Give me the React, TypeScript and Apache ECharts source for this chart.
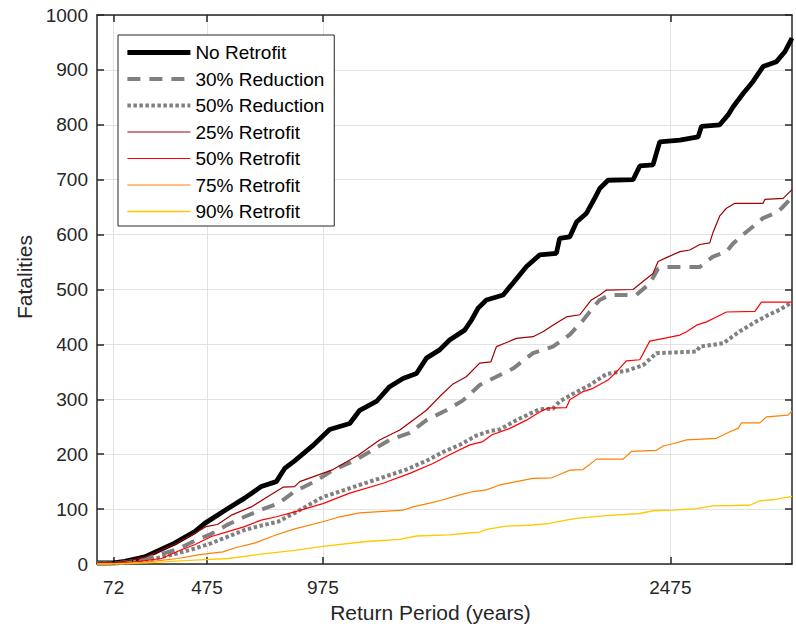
import { useEffect, useRef } from "react";
import * as echarts from "echarts";

const xTickValues = [72, 475, 975, 2475];
const seriesNames = [
  "No Retrofit",
  "30% Reduction",
  "50% Reduction",
  "25% Retrofit",
  "50% Retrofit",
  "75% Retrofit",
  "90% Retrofit",
];

const noRetrofit: [number, number][] = [
  [0, 2], [72, 2], [120, 5], [206, 13], [335, 38], [422, 59], [465, 74], [565, 101],
  [637, 120], [709, 141], [774, 150], [810, 174], [853, 188], [930, 215], [1004, 245],
  [1091, 256], [1134, 280], [1206, 296], [1263, 323], [1321, 338], [1379, 347], [1422, 375],
  [1479, 390], [1522, 408], [1587, 426], [1616, 444], [1645, 466], [1681, 481], [1753, 490],
  [1796, 512], [1854, 542], [1911, 563], [1983, 566], [1997, 593], [2041, 596], [2070, 623],
  [2113, 639], [2148, 666], [2170, 684], [2206, 699], [2314, 700], [2343, 725], [2400, 727],
  [2429, 769], [2516, 772], [2595, 778], [2609, 797], [2688, 800], [2724, 818], [2746, 833],
  [2789, 857], [2832, 879], [2875, 906], [2933, 915], [2969, 933], [3000, 958],
];

const reduction30: [number, number][] = [
  [0, 1], [72, 1], [120, 3], [206, 9], [349, 27], [421, 42], [494, 55], [565, 72],
  [637, 86], [709, 99], [781, 110], [853, 132], [947, 152], [1019, 171], [1105, 187],
  [1191, 208], [1263, 226], [1350, 239], [1422, 262], [1508, 280], [1580, 298], [1652, 326],
  [1724, 341], [1796, 356], [1882, 384], [1968, 396], [2041, 418], [2098, 444], [2141, 467],
  [2170, 481], [2214, 490], [2328, 490], [2386, 511], [2422, 538], [2458, 541], [2602, 541],
  [2659, 560], [2717, 569], [2746, 584], [2789, 600], [2847, 620], [2875, 630], [2933, 640],
  [2955, 648], [3000, 668],
];

const reduction50: [number, number][] = [
  [0, 1], [72, 1], [120, 2], [206, 6], [335, 18], [421, 28], [494, 38], [565, 50],
  [637, 62], [709, 70], [781, 77], [853, 93], [975, 122], [1091, 138], [1235, 158],
  [1335, 172], [1422, 188], [1494, 204], [1566, 217], [1638, 234], [1695, 242], [1738, 245],
  [1810, 262], [1911, 282], [1968, 283], [1997, 296], [2055, 310], [2127, 326], [2199, 346],
  [2285, 352], [2357, 362], [2415, 384], [2588, 387], [2602, 396], [2703, 402], [2775, 424],
  [2847, 442], [2904, 455], [2947, 463], [3000, 477],
];

const retrofit25: [number, number][] = [
  [0, 2], [72, 2], [120, 5], [206, 12], [335, 36], [430, 58], [470, 68], [520, 72],
  [580, 89], [666, 104], [738, 123], [803, 140], [853, 141], [875, 150], [1019, 172],
  [1127, 198], [1220, 226], [1307, 244], [1364, 262], [1422, 280], [1479, 305], [1537, 328],
  [1594, 341], [1652, 366], [1700, 368], [1724, 396], [1760, 402], [1810, 411], [1882, 414],
  [1925, 423], [1968, 435], [2026, 450], [2084, 454], [2134, 481], [2170, 490], [2199, 499],
  [2314, 500], [2343, 510], [2400, 529], [2422, 551], [2458, 558], [2516, 569], [2559, 572],
  [2602, 582], [2645, 585], [2659, 604], [2688, 634], [2717, 648], [2753, 657], [2875, 657],
  [2883, 664], [2962, 666], [3000, 682],
];

const retrofit50: [number, number][] = [
  [0, 1], [72, 1], [150, 3], [278, 10], [364, 26], [421, 35], [494, 50], [565, 59],
  [637, 68], [709, 80], [774, 86], [853, 95], [975, 110], [1091, 129], [1235, 147],
  [1350, 165], [1450, 183], [1522, 199], [1609, 217], [1666, 223], [1703, 235], [1782, 247],
  [1854, 262], [1911, 277], [1947, 284], [2026, 285], [2041, 299], [2098, 314], [2141, 320],
  [2206, 335], [2249, 353], [2285, 370], [2343, 372], [2386, 406], [2458, 412], [2516, 417],
  [2545, 423], [2588, 435], [2631, 441], [2674, 450], [2717, 459], [2840, 460], [2868, 477],
  [3000, 477],
];

const retrofit75: [number, number][] = [
  [0, 0], [72, 0], [200, 3], [349, 10], [443, 17], [544, 22], [601, 30], [680, 38],
  [766, 52], [853, 64], [975, 77], [1048, 86], [1134, 93], [1321, 98], [1364, 104],
  [1436, 111], [1494, 117], [1566, 126], [1623, 132], [1681, 135], [1738, 144], [1810, 150],
  [1882, 156], [1962, 157], [1997, 163], [2041, 171], [2098, 172], [2156, 191], [2271, 191],
  [2307, 205], [2415, 207], [2444, 215], [2487, 219], [2545, 226], [2674, 229], [2732, 241],
  [2767, 247], [2782, 257], [2861, 257], [2890, 268], [2983, 271], [3000, 279],
];

const retrofit90: [number, number][] = [
  [0, 0], [72, 0], [206, 2], [421, 7], [565, 10], [709, 18], [853, 25], [975, 32],
  [1163, 41], [1307, 45], [1379, 51], [1522, 53], [1594, 56], [1652, 58], [1681, 63],
  [1767, 69], [1882, 71], [1954, 74], [2012, 79], [2069, 83], [2199, 88], [2343, 92],
  [2400, 97], [2487, 98], [2588, 101], [2659, 106], [2818, 107], [2861, 115], [2918, 117],
  [3000, 123],
];

const FONT = "'Liberation Sans', Arial, Helvetica, sans-serif";
const AXIS_COLOR = "#262626";
const GRID_COLOR = "#e3e3e3";

const plain = (v: number) => String(v);

export default function App() {
  const ref = useRef<HTMLDivElement>(null);

  useEffect(() => {
    document.body.style.margin = "0";
    if (!ref.current) return;
    const chart = echarts.init(ref.current, null, { renderer: "svg" });

    const seriesData = [noRetrofit, reduction30, reduction50, retrofit25, retrofit50, retrofit75, retrofit90];
    const styles: any[] = [
      { color: "#000000", width: 4.8, type: "solid" },
      { color: "#808080", width: 4, type: [13, 9], cap: "butt" },
      { color: "#808080", width: 4, type: [3.5, 2.5], cap: "butt" },
      { color: "#a00000", width: 1.2, type: "solid" },
      { color: "#ff0000", width: 1.2, type: "solid" },
      { color: "#ff8000", width: 1.2, type: "solid" },
      { color: "#ffc800", width: 1.3, type: "solid" },
    ];

    const series = seriesData.map((d, i) => ({
      name: seriesNames[i],
      type: "line",
      data: d,
      symbol: "none",
      showSymbol: false,
      color: styles[i].color,
      lineStyle: styles[i],
      clip: true,
      z: 2 + i,
    }));

    const option: any = {
      animation: false,
      backgroundColor: "#ffffff",
      textStyle: { fontFamily: FONT },
      grid: { left: 97, right: 4, top: 15, bottom: 70, containLabel: false },
      legend: {
        orient: "vertical",
        left: 118,
        top: 35,
        data: seriesNames,
        itemWidth: 63,
        itemHeight: 19,
        itemGap: 7.5,
        padding: [8, 10, 5, 7],
        backgroundColor: "#ffffff",
        borderColor: AXIS_COLOR,
        borderWidth: 1,
        borderRadius: 0,
        itemStyle: { opacity: 0, borderWidth: 0 },
        lineStyle: { width: "inherit", type: "inherit" },
        textStyle: { fontFamily: FONT, fontSize: 19, color: "#000000" },
        selectedMode: false,
      },
      xAxis: [
        {
          type: "value",
          min: 0,
          max: 3000,
          name: "Return Period (years)",
          nameLocation: "middle",
          nameGap: 38,
          nameTextStyle: { fontFamily: FONT, fontSize: 21, color: AXIS_COLOR, padding: [0, 28, 0, 0] },
          axisLine: { show: true, onZero: false, lineStyle: { color: AXIS_COLOR, width: 1.5 } },
          axisTick: { show: true, inside: true, length: 7, customValues: xTickValues, lineStyle: { color: AXIS_COLOR, width: 1.5 } },
          axisLabel: { show: true, customValues: xTickValues, formatter: plain, margin: 14, fontFamily: FONT, fontSize: 19, color: AXIS_COLOR },
          splitLine: { show: true, lineStyle: { color: GRID_COLOR, width: 1 } },
        },
        {
          type: "value",
          position: "top",
          min: 0,
          max: 3000,
          axisLine: { show: true, onZero: false, lineStyle: { color: AXIS_COLOR, width: 1.5 } },
          axisTick: { show: true, inside: true, length: 7, customValues: xTickValues, lineStyle: { color: AXIS_COLOR, width: 1.5 } },
          axisLabel: { show: false },
          splitLine: { show: false },
        },
      ],
      yAxis: [
        {
          type: "value",
          min: 0,
          max: 1000,
          interval: 100,
          name: "Fatalities",
          nameLocation: "middle",
          nameGap: 58,
          nameTextStyle: { fontFamily: FONT, fontSize: 21, color: AXIS_COLOR, padding: [0, 0, 0, 25] },
          axisLine: { show: true, onZero: false, lineStyle: { color: AXIS_COLOR, width: 1.5 } },
          axisTick: { show: true, inside: true, length: 7, lineStyle: { color: AXIS_COLOR, width: 1.5 } },
          axisLabel: { show: true, formatter: plain, margin: 9, fontFamily: FONT, fontSize: 19, color: AXIS_COLOR },
          splitLine: { show: true, lineStyle: { color: GRID_COLOR, width: 1 } },
        },
        {
          type: "value",
          position: "right",
          min: 0,
          max: 1000,
          interval: 100,
          axisLine: { show: true, onZero: false, lineStyle: { color: AXIS_COLOR, width: 1.5 } },
          axisTick: { show: true, inside: true, length: 7, lineStyle: { color: AXIS_COLOR, width: 1.5 } },
          axisLabel: { show: false },
          splitLine: { show: false },
        },
      ],
      series,
    };

    chart.setOption(option);
    return () => chart.dispose();
  }, []);

  return (
    <div
      ref={ref}
      style={{ position: "fixed", left: 0, top: 0, width: 796, height: 634, background: "#ffffff" }}
    />
  );
}
